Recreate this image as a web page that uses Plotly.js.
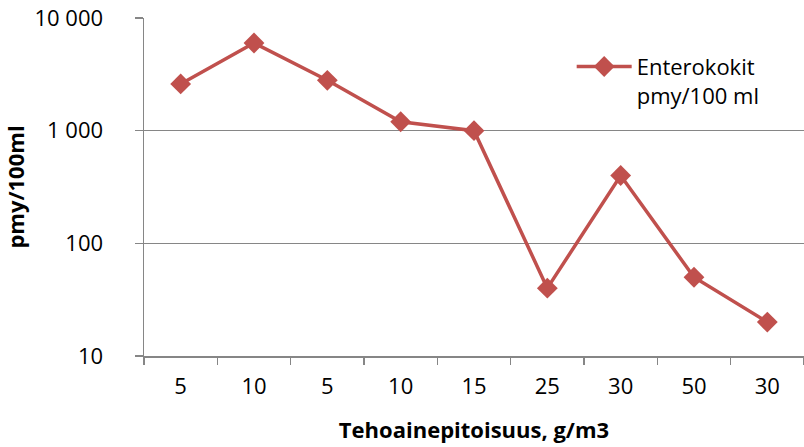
<!DOCTYPE html>
<html>
<head>
<meta charset="utf-8">
<script src="https://cdn.plot.ly/plotly-3.0.1.min.js"></script>
<style>html,body{margin:0;padding:0;background:#fff}#chart{width:804px;height:447px}</style>
</head>
<body>
<div id="chart"></div>
<script>
const categories = ["5", "10", "5", "10", "15", "25", "30", "50", "30"];
const values = [2600, 6000, 2800, 1200, 1000, 40, 400, 50, 20];
const seriesName = "Enterokokit<br>pmy/100 ml";
const yTickVals = [10, 100, 1000, 10000];
const yTickText = ["10", "100", "1 000", "10 000"];

const idx = categories.map((_, i) => i);
const bounds = categories.concat([""]).map((_, i) => i - 0.5);
const font = "Open Sans, Liberation Sans, Arial, sans-serif";
const red = "#C0504D";
const gray = "#868686";

Plotly.newPlot("chart", [{
  x: idx,
  y: values,
  type: "scatter",
  mode: "lines+markers",
  name: seriesName,
  line: {color: red, width: 3.5},
  marker: {symbol: "diamond", size: 16, color: red}
}], {
  width: 804, height: 447,
  margin: {l: 144, r: 0, t: 18, b: 91},
  paper_bgcolor: "#fff", plot_bgcolor: "#fff",
  font: {family: font, size: 22, color: "#000"},
  showlegend: true,
  legend: {x: 0.648, y: 0.918, xanchor: "left", yanchor: "top", valign: "top", itemwidth: 55, bgcolor: "rgba(0,0,0,0)", font: {size: 22}, tracegroupgap: 0},
  xaxis: {
    range: [-0.5, 8.5],
    tickmode: "array", tickvals: idx, ticktext: categories,
    ticks: "", showgrid: false, zeroline: false,
    showline: true, linecolor: gray, linewidth: 1.5,
    tickfont: {size: 22},
    ticklabelstandoff: 10,
    minor: {tickmode: "array", tickvals: bounds, ticks: "outside", ticklen: 7, tickcolor: gray, tickwidth: 1.5, showgrid: false},
    title: {text: "<b>Tehoainepitoisuus, g/m3</b>", font: {size: 22}, standoff: 23}
  },
  yaxis: {
    type: "log", range: [1, 4],
    tickmode: "array", tickvals: yTickVals, ticktext: yTickText,
    ticks: "outside", ticklen: 8, tickcolor: gray, tickwidth: 1.5,
    showgrid: true, gridcolor: gray, gridwidth: 1.5,
    showline: true, linecolor: gray, linewidth: 1.5,
    zeroline: false,
    tickfont: {size: 22},
    ticklabelstandoff: 27,
    title: {text: "<b>pmy/100ml</b>", font: {size: 22}, standoff: 8}
  }
}, {displayModeBar: false, staticPlot: true});
</script>
</body>
</html>
